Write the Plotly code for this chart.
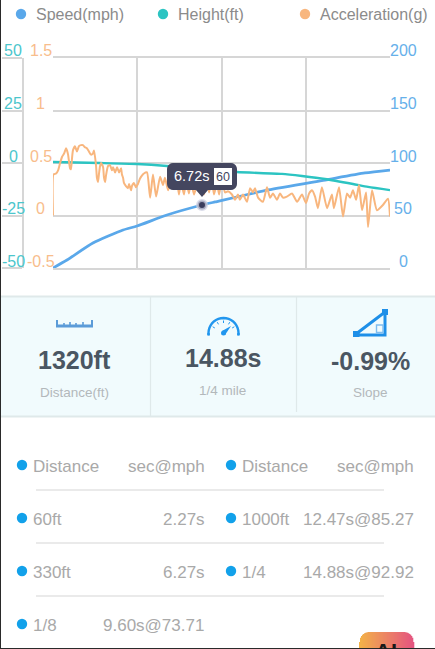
import math
import plotly.graph_objects as go

W, H = 435, 649
FONT = "Liberation Sans"

SERIES_NAMES = ["Speed(mph)", "Height(ft)", "Acceleration(g)"]
SERIES_COLORS = ["#5aa8ea", "#2cc4c2", "#f8b67e"]

speed_t = [0, 0.63, 1.80, 3.16, 3.79, 5.14, 6.72, 7.31, 9.70, 12.27, 14.07, 15.2]
speed_v = [0, 7.6, 23.8, 36.2, 40, 50.5, 60, 62.9, 74.3, 83.8, 90.5, 93.3]

height_t = [0, 2.12, 3.79, 5.14, 6.72, 8.30, 10.33, 11.23, 12.27, 13.53, 14.21, 15.2]
height_v = [0.5, 0, -0.5, -1.4, -2.9, -4.3, -5.2, -6.2, -7.6, -10, -11.4, -12.9]

accel_t = [0.00, 0.02, 0.14, 0.23, 0.32, 0.41, 0.50, 0.59, 0.63, 0.68, 0.77, 0.81, 0.86, 0.90, 0.99,
           1.08, 1.17, 1.26, 1.35, 1.44, 1.53, 1.62, 1.71, 1.80, 1.85, 1.94, 1.98, 2.03, 2.07, 2.12,
           2.17, 2.26, 2.30, 2.35, 2.39, 2.48, 2.57, 2.66, 2.71, 2.80, 2.89, 2.98, 3.07, 3.11, 3.16,
           3.20, 3.29, 3.38, 3.43, 3.52, 3.56, 3.65, 3.74, 3.83, 3.92, 4.01, 4.10, 4.24, 4.38, 4.51,
           4.65, 4.83, 4.96, 5.05, 5.19, 5.32, 5.46, 5.59, 5.68, 5.77, 5.91, 6.00, 6.13, 6.22, 6.36,
           6.50, 6.59, 6.72, 6.81, 6.95, 7.04, 7.17, 7.26, 7.40, 7.49, 7.62, 7.76, 7.89, 8.07, 8.21,
           8.34, 8.43, 8.57, 8.75, 8.89, 9.02, 9.11, 9.25, 9.47, 9.65, 9.79, 9.92, 10.10, 10.24, 10.37,
           10.55, 10.78, 11.01, 11.23, 11.41, 11.55, 11.68, 11.82, 11.95, 12.13, 12.36, 12.58, 12.67, 12.90, 13.08,
           13.26, 13.40, 13.53, 13.67, 13.80, 13.94, 14.12, 14.21, 14.39, 14.61, 14.88, 15.11, 15.20]
accel_v = [0.00, 0.39, 0.40, 0.43, 0.50, 0.56, 0.59, 0.64, 0.62, 0.58, 0.45, 0.44, 0.55, 0.62, 0.66,
           0.61, 0.66, 0.67, 0.67, 0.65, 0.64, 0.61, 0.58, 0.59, 0.62, 0.48, 0.36, 0.32, 0.39, 0.47,
           0.50, 0.46, 0.36, 0.32, 0.38, 0.47, 0.48, 0.43, 0.46, 0.41, 0.46, 0.41, 0.45, 0.39, 0.36,
           0.31, 0.28, 0.26, 0.30, 0.24, 0.28, 0.31, 0.27, 0.30, 0.35, 0.38, 0.40, 0.41, 0.17, 0.39,
           0.18, 0.37, 0.29, 0.36, 0.24, 0.32, 0.25, 0.34, 0.20, 0.32, 0.20, 0.34, 0.21, 0.33, 0.20,
           0.30, 0.24, 0.31, 0.20, 0.33, 0.22, 0.34, 0.20, 0.31, 0.20, 0.34, 0.22, 0.23, 0.20, 0.15,
           0.20, 0.15, 0.20, 0.13, 0.26, 0.22, 0.26, 0.17, 0.13, 0.27, 0.17, 0.21, 0.15, 0.21, 0.17,
           0.18, 0.21, 0.13, 0.20, 0.12, 0.21, 0.24, 0.18, 0.07, 0.27, 0.07, 0.20, 0.07, 0.27, -0.01,
           0.21, 0.17, 0.24, 0.15, 0.29, 0.05, 0.22, -0.11, 0.24, 0.05, 0.10, 0.16, -0.01]

speed_ticks = [0, 50, 100, 150, 200]
height_ticks = [-50, -25, 0, 25, 50]
accel_ticks = [-0.5, 0, 0.5, 1, 1.5]
tip_time, tip_speed = 6.72, 60

stats = [("1320ft", "Distance(ft)", 74.5, 360, 392),
         ("14.88s", "1/4 mile", 223, 358, 390),
         ("-0.99%", "Slope", 370, 361, 392)]

table_left = [("Distance", "sec@mph"), ("60ft", "2.27s"), ("330ft", "6.27s"), ("1/8", "9.60s@73.71")]
table_right = [("Distance", "sec@mph"), ("1000ft", "12.47s@85.27"), ("1/4", "14.88s@92.92")]
table_rows_y = [465, 518, 571, 624]

GRID = "#d6d6d6"
px = lambda x: x / W
py = lambda y: 1 - y / H


def P(points, close=False):
    s = "M" + " L".join(f"{px(x):.5f},{py(y):.5f}" for x, y in points)
    return s + (" Z" if close else "")


fig = go.Figure()
fig.add_trace(go.Scatter(x=accel_t, y=accel_v, yaxis="y3", mode="lines", name=SERIES_NAMES[2],
                         line=dict(color=SERIES_COLORS[2], width=2, shape="spline", smoothing=0.5)))
fig.add_trace(go.Scatter(x=height_t, y=height_v, yaxis="y2", mode="lines", name=SERIES_NAMES[1],
                         line=dict(color=SERIES_COLORS[1], width=2.4, shape="spline", smoothing=0.6)))
fig.add_trace(go.Scatter(x=speed_t, y=speed_v, yaxis="y", mode="lines", name=SERIES_NAMES[0],
                         line=dict(color=SERIES_COLORS[0], width=2.8, shape="spline", smoothing=0.6)))
fig.add_trace(go.Scatter(x=[tip_time], y=[tip_speed], yaxis="y", mode="markers", showlegend=False,
                         marker=dict(size=9, color="#3b3e5e", line=dict(width=3, color="rgba(205,208,225,0.75)"))))

shapes, ann = [], []


def text(s, x, y, size, color, anchor="center", bold=False):
    # annotations carry about 2px of internal padding: compensate at the anchored edge
    off = {"left": -2, "right": 2, "center": 0}[anchor]
    ann.append(dict(text=f"<b>{s}</b>" if bold else s, x=px(x + off), y=py(y), xref="paper", yref="paper",
                    xanchor=anchor, yanchor="middle", showarrow=False,
                    font=dict(family=FONT, size=size, color=color)))


def rect(x0, y0, x1, y1, color, layer="below"):
    shapes.append(dict(type="rect", xref="paper", yref="paper", x0=px(x0), x1=px(x1), y0=py(y0), y1=py(y1),
                       fillcolor=color, line=dict(width=0), layer=layer))


def line(x0, y0, x1, y1, color, width=1.5, layer="below"):
    shapes.append(dict(type="line", xref="paper", yref="paper", x0=px(x0), x1=px(x1), y0=py(y0), y1=py(y1),
                       line=dict(color=color, width=width), layer=layer))


def dot(cx, cy, r, color):
    shapes.append(dict(type="circle", xref="paper", yref="paper", x0=px(cx - r), x1=px(cx + r),
                       y0=py(cy + r), y1=py(cy - r), fillcolor=color, line=dict(width=0), layer="below"))


def path(points, fill=None, stroke=None, width=0, close=True, layer="below"):
    shapes.append(dict(type="path", xref="paper", yref="paper", path=P(points, close),
                       fillcolor=fill, line=dict(color=stroke or "rgba(0,0,0,0)", width=width), layer=layer))


# legend
for name, color, dx, tx in zip(SERIES_NAMES, SERIES_COLORS, [21, 163, 305], [36, 178, 320]):
    dot(dx, 14, 5.2, color)
    text(name, tx, 15, 16, "#8b8b8b", "left")

# axis labels, sitting just above their grid lines
for v in speed_ticks:
    ann.append(dict(text=str(v), x=px(403), y=v, xref="paper", yref="y", yshift=7, showarrow=False,
                    xanchor="center", yanchor="middle", font=dict(family=FONT, size=16, color="#66b0ea")))
for v in height_ticks:
    ann.append(dict(text=str(v), x=px(13), y=v, xref="paper", yref="y2", yshift=7, showarrow=False,
                    xanchor="center", yanchor="middle", font=dict(family=FONT, size=16, color="#4cc6cc")))
for v in accel_ticks:
    ann.append(dict(text=f"{v:g}", x=px(40.5), y=v, xref="paper", yref="y3", yshift=7, showarrow=False,
                    xanchor="center", yanchor="middle", font=dict(family=FONT, size=16, color="#f8bd8c")))

# tooltip
tx0, ty0, tx1, ty1, r = 167, 163, 237, 190, 6
corner = lambda cx, cy, a0: [(cx + r * math.cos(math.radians(a0 + i * 18)), cy + r * math.sin(math.radians(a0 + i * 18))) for i in range(6)]
tip = (corner(tx0 + r, ty0 + r, 180) + corner(tx1 - r, ty0 + r, 270) + corner(tx1 - r, ty1 - r, 0)
       + [(208, ty1), (202, 197), (196, ty1)] + corner(tx0 + r, ty1 - r, 90))
path(tip, fill="#44465f", layer="above")
rect(214, 168, 232, 185, "#ffffff", layer="above")
text(f"{tip_time}s", 191.5, 176.5, 14.5, "#ffffff")
text(str(tip_speed), 223, 177, 12.5, "#44465f")

# stats panel
rect(1, 297, W, 416, "#f1fbfd")
line(1, 296.5, W, 296.5, "#dfe9ea", 2)
line(1, 416.5, W, 416.5, "#dfe9ea", 2)
line(150.5, 297, 150.5, 416, "#dfe9ea", 1.2)
line(296.5, 297, 296.5, 412, "#dfe9ea", 1.2)
for value, label, cx, vy, ly in stats:
    text(value, cx, vy, 25, "#4a5662", bold=True)
    text(label, cx, ly, 13.5, "#b3b8bb")

# ruler icon
RUL = "#5b9bd8"
rect(56, 324.5, 93, 327.5, RUL)
for x, top in [(57, 320), (64, 323), (70, 322), (76, 323), (83, 322), (92, 320)]:
    line(x, top, x, 326, RUL, 2 if x in (57, 92) else 1.6)

# gauge icon
GAU = "#2196ee"
arc = [(223.5 + 15 * math.cos(math.radians(a)), 333 + 15 * math.sin(math.radians(a))) for a in range(170, 371, 10)]
path(arc, stroke=GAU, width=2.4, close=False)
line(208.5, 333, 208.5, 335, GAU, 2.4)
line(238.5, 333, 238.5, 335, GAU, 2.4)
for a in [210, 240, 270, 300, 330]:
    ca, sa = math.cos(math.radians(a)), math.sin(math.radians(a))
    line(223.5 + 10 * ca, 333 + 10 * sa, 223.5 + 12.5 * ca, 333 + 12.5 * sa, GAU, 1)
path([(222, 331), (231, 326), (225, 335)], fill=GAU)
dot(223.5, 333, 2.5, GAU)

# slope icon
SLO = "#1e8fe8"
path([(356, 334), (385, 312), (385, 335), (356, 335)], fill=None, stroke=SLO, width=3)
rect(353, 331, 359.5, 337, SLO)
rect(382, 309, 388, 315, SLO)
shapes.append(dict(type="rect", xref="paper", yref="paper", x0=px(376.5), x1=px(383), y0=py(332.5), y1=py(325),
                   line=dict(color="#7fbdf0", width=1.4), layer="below"))

# table
for yv in [490, 543, 596]:
    line(36, yv, 384, yv, "#e3e3e3", 1.3)
for (lab, val), y in zip(table_left, table_rows_y):
    dot(22, y, 5.2, "#12a1ea")
    text(lab, 33, y + 1, 17, "#a9a9a9", "left")
    text(val, 203.5 if lab == "1/8" else 204.8, y + 1, 17, "#a9a9a9", "right")
for (lab, val), y in zip(table_right, table_rows_y):
    dot(231, y, 5.2, "#12a1ea")
    text(lab, 242, y + 1, 17, "#a9a9a9", "left")
    text(val, 413.8, y + 1, 17, "#a9a9a9", "right")

# gradient badge, clipped by the page bottom
bx0, bx1, by, br = 359, 414, 632, 10
c0, c1 = (243, 178, 72), (228, 84, 128)
for i in range(bx1 - bx0):
    f = i / (bx1 - bx0 - 1)
    col = "rgb(%d,%d,%d)" % tuple(round(a + (b - a) * f) for a, b in zip(c0, c1))
    d = max(br - i, br - (bx1 - bx0 - 1 - i), 0)
    top = by + br - math.sqrt(max(br * br - d * d, 0))
    rect(bx0 + i, top, bx0 + i + 1.3, H, col)
text("AI", 386, 651, 22, "#1a1a1a", bold=True)

# window edges
rect(0, 0, 1, H, "#2a2a2a", layer="above")
rect(0, H - 1, W, H, "#2a2a2a", layer="above")

fig.update_layout(
    width=W, height=H, margin=dict(l=0, r=0, t=0, b=0), autosize=False,
    paper_bgcolor="white", plot_bgcolor="white", showlegend=False, hovermode=False,
    shapes=shapes, annotations=ann,
    font=dict(family=FONT),
    xaxis=dict(domain=[px(53), px(390)], range=[0, 15.2], dtick=3.8, tick0=0, showticklabels=False,
               showgrid=True, gridcolor=GRID, gridwidth=1.8, zeroline=False,
               showline=True, linecolor=GRID, linewidth=1.8, mirror=True, ticks=""),
    yaxis=dict(domain=[py(268), py(58)], range=[0, 200], tickvals=speed_ticks, side="right", showticklabels=False,
               showgrid=True, gridcolor=GRID, gridwidth=1.8, zeroline=False, showline=False, ticks=""),
    yaxis2=dict(range=[-50, 50], tickvals=height_ticks, overlaying="y", anchor="free", position=px(23), side="left",
                showticklabels=False, showgrid=False, zeroline=False, showline=True, linecolor=GRID, linewidth=1.8,
                ticks="outside", ticklen=20, tickcolor=GRID, tickwidth=1.8),
    yaxis3=dict(range=[-0.5, 1.5], tickvals=accel_ticks, overlaying="y", anchor="x", side="left",
                showticklabels=False, showgrid=False, zeroline=False, showline=False, ticks=""),
)

fig.write_html("out.html", config=dict(displayModeBar=False),
               post_script="document.body.style.margin='0';")
